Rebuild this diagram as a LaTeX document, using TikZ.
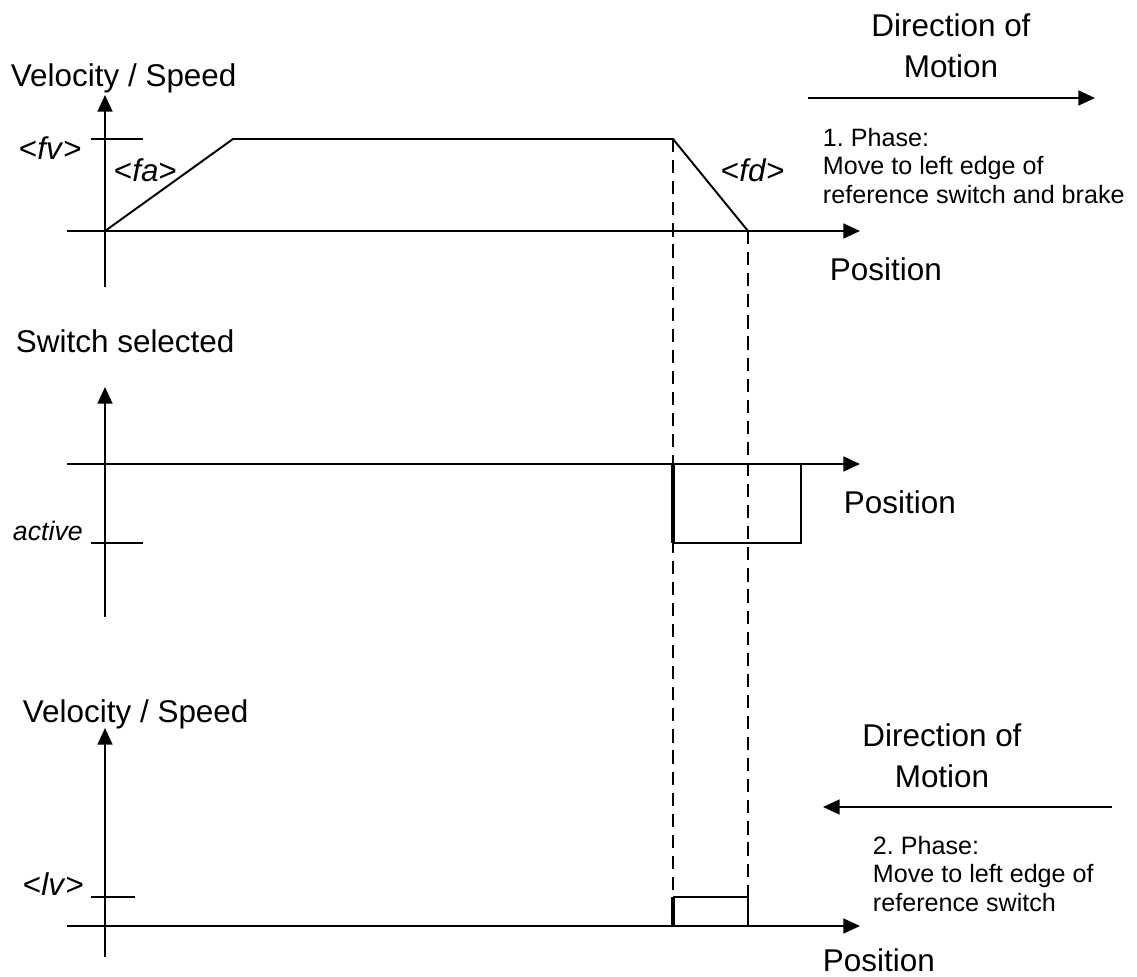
\documentclass[tikz,border=0pt]{standalone}
\usepackage{fontspec}
\setmainfont{Liberation Sans}
\usetikzlibrary{arrows.meta}
\frenchspacing

\begin{document}
\begin{tikzpicture}[x=0.02cm, y=-0.02cm, line width=1.1pt,
    axis/.style={-{Triangle[length=9.5pt,width=8.5pt]}},
    marker/.style={line width=2.8pt},
    guide/.style={dash pattern=on 7.5pt off 4.5pt},
    lbl/.style={inner sep=0pt, anchor=base west, font=\fontsize{17.9}{22.8}\selectfont},
    phase/.style={inner sep=0pt, anchor=base west, align=left, font=\fontsize{14.3}{16}\selectfont}]
    \useasboundingbox (0,0) rectangle (1137,977);
    \def\axX{105}
    \def\xOn{673}
    \def\xOff{748}

    % Velocity plot, 1. phase
    \draw[axis] (\axX,287) -- (\axX,95);
    \draw[axis] (67,231) -- (860,231);
    \draw (91,139) -- (143,139);
    \draw (\axX,231) -- (233,139) -- (\xOn,139) -- (\xOff,231);
    \node[lbl] (velTop) at (10,86) {Velocity / Speed};
    \node[lbl] (fv) at (18,159) {<\textit{fv}>};
    \node[lbl] (fa) at (113,181) {<\textit{fa}>};
    \node[lbl] (fd) at (720,181) {<\textit{fd}>};
    \node[lbl] (posTop) at (829,280) {Position};

    % Switch plot
    \draw[axis] (\axX,617) -- (\axX,387);
    \draw[axis] (67,464) -- (860,464);
    \draw (91,543) -- (143,543);
    \draw[marker] (\xOn,464) -- (\xOn,543);
    \draw (\xOn,543) -- (801,543) -- (801,464);
    \node[lbl] (swSel) at (15,352) {Switch selected};
    \node[lbl, font=\fontsize{15.2}{18}\selectfont\itshape] (active) at (12,540) {active};
    \node[lbl] (posMid) at (843,513) {Position};

    % Velocity plot, 2. phase
    \draw[axis] (\axX,957) -- (\axX,728);
    \draw[axis] (67,926) -- (860,926);
    \draw (91,897) -- (135,897);
    \draw[marker] (\xOn,897) -- (\xOn,926);
    \draw (\xOn,897) -- (\xOff,897) -- (\xOff,926);
    \node[lbl] (velBot) at (22,722) {Velocity / Speed};
    \node[lbl] (lv) at (22,895) {<\textit{lv}>};
    \node[lbl] (posBot) at (822,971) {Position};

    % Guide lines
    \draw[guide] (\xOn,139) -- (\xOn,897);
    \draw[guide] (\xOff,231) -- (\xOff,897);

    % Direction of motion (base = last line)
    \node[lbl, align=center, anchor=base] (dirTop) at (951,77) {Direction of\\Motion};
    \draw[axis] (808,98) -- (1095,98);
    \node[phase] (phaseOne) at (822,203) {1. Phase:\\Move to left edge of\\reference switch and brake};
    \node[lbl, align=center, anchor=base] (dirBot) at (942,787) {Direction of\\Motion};
    \draw[axis] (1112,807) -- (823,807);
    \node[phase] (phaseTwo) at (872,911) {2. Phase:\\Move to left edge of\\reference switch};
\end{tikzpicture}
\end{document}
